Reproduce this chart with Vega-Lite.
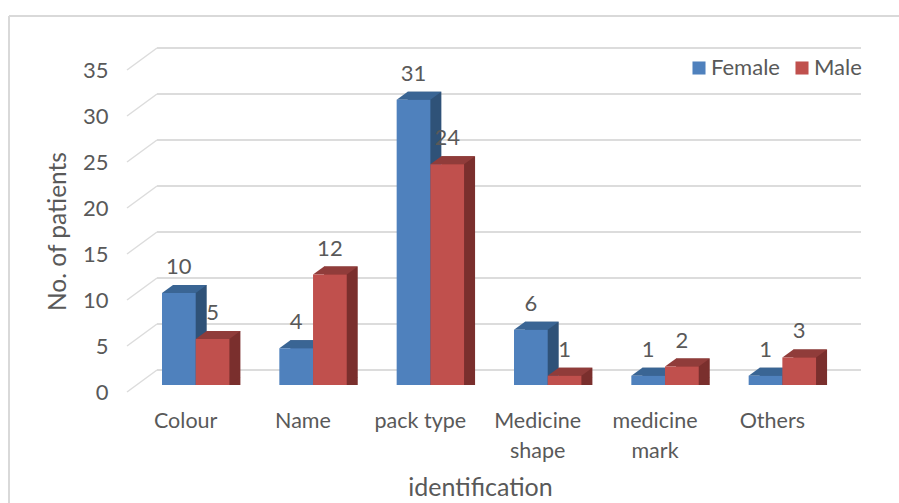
{"$schema":"https://vega.github.io/schema/vega-lite/v6.json","width":704,"height":322,"autosize":"none","padding":{"left":127,"top":63,"right":68,"bottom":118},"background":"white","config":{"view":{"stroke":null},"font":"Lato","text":{"font":"Lato"}},
"datasets":{"bars":[{"cat":"Colour","sex":"Female","n":10},{"cat":"Colour","sex":"Male","n":5},{"cat":"Name","sex":"Female","n":4},{"cat":"Name","sex":"Male","n":12},{"cat":"pack type","sex":"Female","n":31},{"cat":"pack type","sex":"Male","n":24},{"cat":"Medicine shape","sex":"Female","n":6},{"cat":"Medicine shape","sex":"Male","n":1},{"cat":"medicine mark","sex":"Female","n":1},{"cat":"medicine mark","sex":"Male","n":2},{"cat":"Others","sex":"Female","n":1},{"cat":"Others","sex":"Male","n":3}],
"ticks":[{"tick":0},{"tick":5},{"tick":10},{"tick":15},{"tick":20},{"tick":25},{"tick":30},{"tick":35}],
"frame":[{"a":-0.1676,"b":1.1,"t":40.1,"u":40.1},{"a":-0.1676,"b":-0.1676,"t":40.1,"u":-13}]},
"resolve":{"scale":{"x":"independent","color":"independent","xOffset":"independent"},"axis":{"x":"independent"}},
"layer":[
{"data":{"name":"frame"},"mark":{"type":"rule","color":"#d9d9d9","strokeWidth":2,"clip":false},"encoding":{"x":{"field":"a","type":"quantitative","scale":{"domain":[0,1]},"axis":null},"x2":{"field":"b"},"y":{"field":"t","type":"quantitative","scale":{"domain":[0,35],"nice":false},"axis":{"values":[0,5,10,15,20,25,30,35],"grid":false,"domain":false,"ticks":false,"labelOffset":7,"labelPadding":19,"labelFont":"Lato","labelFontSize":22,"labelColor":"#595959","title":"No. of patients","titleFont":"Lato","titleFontSize":24.5,"titleFontWeight":"normal","titleColor":"#595959","titleX":-57,"titleY":168}},"y2":{"field":"u"}}},
{"data":{"name":"ticks"},"mark":{"type":"rule","color":"#dcdcdc","strokeWidth":2,"xOffset":30,"x2Offset":30,"yOffset":-15,"y2Offset":-15},"encoding":{"x":{"datum":0,"type":"quantitative","scale":{"domain":[0,1]},"axis":null},"x2":{"datum":1},"y":{"field":"tick","type":"quantitative","scale":{"domain":[0,35],"nice":false}}}},
{"data":{"name":"ticks"},"mark":{"type":"rule","color":"#dcdcdc","strokeWidth":1.5,"xOffset":0,"x2Offset":30,"yOffset":7,"y2Offset":-15},"encoding":{"x":{"datum":0,"type":"quantitative","scale":{"domain":[0,1]},"axis":null},"x2":{"datum":0},"y":{"field":"tick","type":"quantitative","scale":{"domain":[0,35],"nice":false}},"y2":{"field":"tick"}}},
{"data":{"name":"bars"},"mark":{"type":"bar","yOffset":-8,"y2Offset":-8},"encoding":{"x":{"field":"cat","type":"nominal","sort":null,"scale":{"paddingInner":0,"paddingOuter":0},"axis":null},"xOffset":{"field":"sex","type":"nominal","scale":{"type":"band","domain":["Female","Male"],"range":[46,113.4],"padding":0}},"y":{"field":"n","type":"quantitative","stack":null,"scale":{"domain":[0,35],"nice":false}},"color":{"field":"sex","type":"nominal","legend":null,"scale":{"domain":["Female","Male"],"range":["#2f5278","#7a2f2d"]}}}},
{"data":{"name":"bars"},"mark":{"type":"point","filled":true,"size":1136,"opacity":1,"strokeWidth":0,"shape":"M 1 0 L 1.653 -0.475 L 1 -0.475 Z"},"encoding":{"x":{"field":"cat","type":"nominal","sort":null,"scale":{"paddingInner":0,"paddingOuter":0},"axis":null},"xOffset":{"field":"sex","type":"nominal","scale":{"type":"band","domain":["Female","Male"],"range":[35,102.4],"padding":0}},"y":{"datum":0,"type":"quantitative","scale":{"domain":[0,35],"nice":false}},"color":{"field":"sex","type":"nominal","legend":null,"scale":{"domain":["Female","Male"],"range":["#2f5278","#7a2f2d"]}}}},
{"data":{"name":"bars"},"mark":{"type":"point","filled":true,"size":1136,"opacity":1,"strokeWidth":0,"shape":"M -1 0 L 1 0 L 1.653 -0.475 L -0.347 -0.475 Z"},"encoding":{"x":{"field":"cat","type":"nominal","sort":null,"scale":{"paddingInner":0,"paddingOuter":0},"axis":null},"xOffset":{"field":"sex","type":"nominal","scale":{"type":"band","domain":["Female","Male"],"range":[35,102.4],"padding":0}},"y":{"field":"n","type":"quantitative","scale":{"domain":[0,35],"nice":false}},"color":{"field":"sex","type":"nominal","legend":null,"scale":{"domain":["Female","Male"],"range":["#3a6594","#903c3a"]}}}},
{"data":{"name":"bars"},"mark":{"type":"bar"},"encoding":{"x":{"field":"cat","type":"nominal","sort":null,"scale":{"paddingInner":0,"paddingOuter":0},"axis":{"title":"identification","titleFont":"Lato","titleFontSize":25,"titleFontWeight":"normal","titleColor":"#595959","titleX":353,"titleY":102,"titleBaseline":"middle","domain":false,"ticks":false,"labelAngle":0,"labelFont":"Lato","labelFontSize":21.5,"labelColor":"#595959","labelPadding":25,"labelLineHeight":30,"labelExpr":"datum.label=='pack type'?datum.label:split(datum.label,' ')"}},"xOffset":{"field":"sex","type":"nominal","scale":{"type":"band","domain":["Female","Male"],"range":[35,102.4],"padding":0}},"y":{"field":"n","type":"quantitative","stack":null,"scale":{"domain":[0,35],"nice":false}},"color":{"field":"sex","type":"nominal","scale":{"domain":["Female","Male"],"range":["#4f81bd","#c0504d"]},"legend":{"title":null,"orient":"none","legendX":561,"legendY":-6,"direction":"horizontal","symbolType":"square","symbolSize":170,"labelFont":"Lato","labelFontSize":22,"labelColor":"#595959","columnPadding":11,"labelOffset":1}}}},
{"data":{"name":"bars"},"mark":{"type":"text","font":"Lato","fontSize":22,"color":"#595959","yOffset":-26,"baseline":"middle"},"encoding":{"x":{"field":"cat","type":"nominal","sort":null,"scale":{"paddingInner":0,"paddingOuter":0},"axis":null},"xOffset":{"field":"sex","type":"nominal","scale":{"type":"band","domain":["Female","Male"],"range":[35,102.4],"padding":0}},"y":{"field":"n","type":"quantitative","scale":{"domain":[0,35],"nice":false}},"text":{"field":"n","type":"quantitative"}}}
]}
